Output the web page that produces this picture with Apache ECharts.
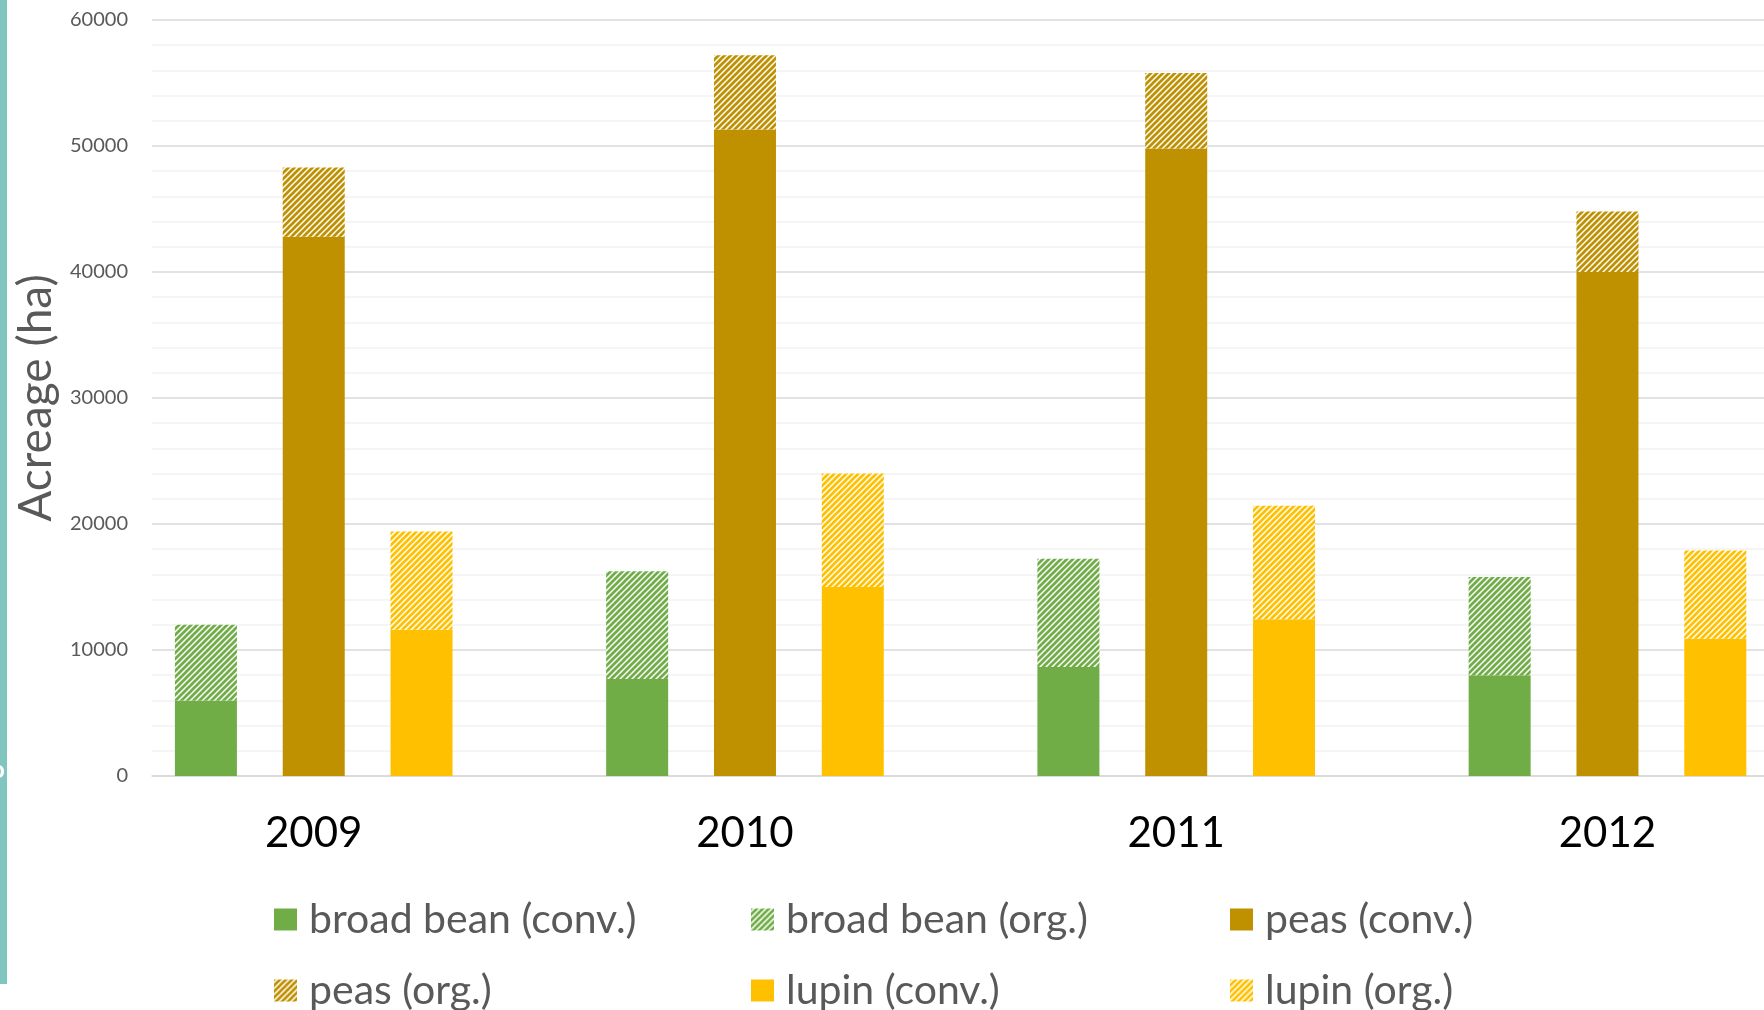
<html>
<head>
<meta charset="utf-8">
<script src="https://cdn.jsdelivr.net/npm/echarts@6/dist/echarts.min.js"></script>
<style>
  html, body { margin: 0; padding: 0; background: #fff; }
  #main { width: 1764px; height: 1010px; }
</style>
</head>
<body>
<div id="main"></div>
<script type="text/javascript">
// data (ha)
var years = ['2009', '2010', '2011', '2012'];
var seriesNames = ['broad bean (conv.)', 'broad bean (org.)', 'peas (conv.)', 'peas (org.)', 'lupin (conv.)', 'lupin (org.)'];
var broadBeanConv = [6000, 7700, 8650, 8000];
var broadBeanOrg = [6000, 8550, 8600, 7800];
var peasConv = [42800, 51300, 49800, 40000];
var peasOrg = [5500, 5900, 6000, 4800];
var lupinConv = [11600, 15000, 12450, 10900];
var lupinOrg = [7800, 9000, 9000, 7000];
var yMin = 0, yMax = 60000, yStep = 10000;

var green = '#70AD47', gold = '#BF9000', yellow = '#FFC000';
var font = 'Lato';

// every year gets 4 slots: broad bean, peas, lupin, empty gap
var slotsPerYear = 4;
var categories = [];
years.forEach(function (y) {
    for (var k = 0; k < slotsPerYear; k++) categories.push(y + '_' + k);
});
function toSlots(values, slot) {
    var out = [];
    values.forEach(function (v) {
        for (var k = 0; k < slotsPerYear; k++) out.push(k === slot ? v : null);
    });
    return out;
}

// diagonal hatch for the organic parts
function hatch(color) {
    var c = document.createElement('canvas');
    c.width = 6; c.height = 6;
    var ctx = c.getContext('2d');
    ctx.fillStyle = '#fff';
    ctx.fillRect(0, 0, 6, 6);
    ctx.strokeStyle = color;
    ctx.lineWidth = 2.7;
    ctx.beginPath();
    ctx.moveTo(-1, 7); ctx.lineTo(7, -1);
    ctx.moveTo(-4, 4); ctx.lineTo(4, -4);
    ctx.moveTo(2, 10); ctx.lineTo(10, 2);
    ctx.stroke();
    return { image: c, repeat: 'repeat' };
}

var fills = [green, hatch(green), gold, hatch(gold), yellow, hatch(yellow)];
var values = [broadBeanConv, broadBeanOrg, peasConv, peasOrg, lupinConv, lupinOrg];
var slotOf = [0, 0, 1, 1, 2, 2];

var series = seriesNames.map(function (name, i) {
    return {
        name: name,
        type: 'bar',
        stack: 'acreage',
        barWidth: 62,
        data: toSlots(values[i], slotOf[i]),
        itemStyle: { color: fills[i] },
        emphasis: { disabled: true }
    };
});

// legend: two rows of three columns
var colLeft = [274, 751, 1230];
var rowTop = [899, 970];
var legends = seriesNames.map(function (name, i) {
    return {
        data: [name],
        left: colLeft[i % 3],
        top: rowTop[Math.floor(i / 3)],
        padding: 0,
        icon: 'rect',
        itemWidth: 23,
        itemHeight: 22,
        selectedMode: false,
        textStyle: {
            fontFamily: font,
            fontSize: 41,
            lineHeight: 40,
            color: '#595959',
            padding: [0, 0, 0, 7]
        }
    };
});

var myChart = echarts.init(document.getElementById('main'));
myChart.setOption({
    animation: false,
    backgroundColor: '#fff',
    grid: { left: 152, top: 20, width: 1725, bottom: 234, outerBoundsMode: 'none', containLabel: false },
    legend: legends,
    xAxis: {
        type: 'category',
        data: categories,
        axisTick: { show: false },
        axisLine: { show: true, lineStyle: { color: '#d9d9d9', width: 1.5 } },
        axisLabel: {
            interval: 0,
            margin: 36,
            fontFamily: font,
            fontSize: 42,
            lineHeight: 42,
            color: '#000',
            formatter: function (v, idx) {
                return idx % slotsPerYear === 1 ? years[Math.floor(idx / slotsPerYear)] : '';
            }
        }
    },
    yAxis: {
        type: 'value',
        min: yMin,
        max: yMax,
        interval: yStep,
        name: 'Acreage (ha)',
        nameLocation: 'middle',
        nameRotate: 90,
        nameGap: 92,
        nameTextStyle: { fontFamily: font, fontSize: 46, color: '#595959' },
        axisLine: { show: false },
        axisTick: { show: false },
        axisLabel: {
            margin: 24, fontFamily: font, fontSize: 20, color: '#595959',
            formatter: function (v) { return String(v); }
        },
        splitLine: { lineStyle: { color: '#d9d9d9', width: 1.5 } },
        minorTick: { show: false, splitNumber: 5 },
        minorSplitLine: { show: true, lineStyle: { color: '#f2f2f2', width: 1.5 } }
    },
    graphic: [
        { type: 'rect', left: 0, top: 0, z: 10, shape: { width: 7, height: 984 }, style: { fill: '#80c6bf' } },
        { type: 'text', x: -9, y: 758, z: 11, style: { text: 'o', fill: '#fff', font: 'bold 24px ' + font } }
    ],
    series: series
});
</script>
</body>
</html>
